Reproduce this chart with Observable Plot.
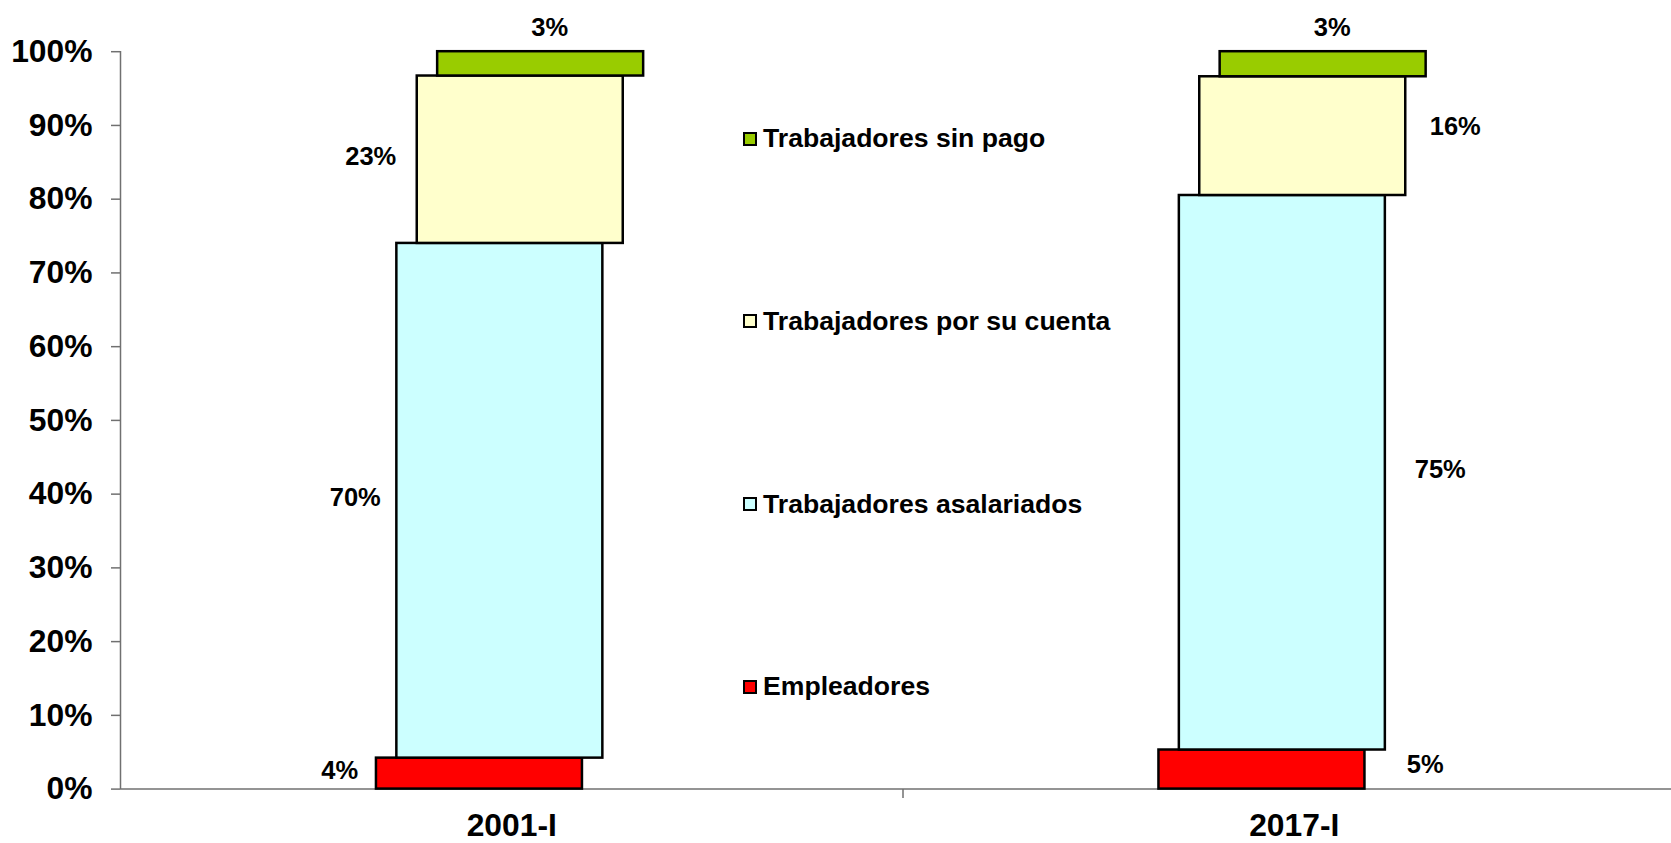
<!DOCTYPE html>
<html><head><meta charset="utf-8">
<script src="https://cdn.jsdelivr.net/npm/d3@7"></script>
<script src="https://cdn.jsdelivr.net/npm/@observablehq/plot@0.6"></script>
<style>
body{margin:0;background:#fff;}
#wrap{position:relative;width:1671px;height:843px;overflow:hidden;}
.legend{position:absolute;left:743px;font-family:Arial,"Liberation Sans",sans-serif;font-weight:bold;font-size:26.6px;color:#000;display:flex;align-items:center;height:30px;margin-top:-15px;white-space:nowrap;}
.sw{width:14px;height:14px;border:2.5px solid #000;box-sizing:border-box;margin-right:6px;flex:none;}
</style></head><body><div id="wrap"></div>
<script>
const categories = ["2001-I", "2017-I"];
const series = ["Empleadores", "Trabajadores asalariados", "Trabajadores por su cuenta", "Trabajadores sin pago"];
const colors = ["#FF0000", "#CCFFFF", "#FFFFCC", "#99CC00"];
const values2001 = [4.2, 69.8, 22.7, 3.3];
const values2017 = [5.3, 75.2, 16.1, 3.4];
const labels2001 = ["4%", "70%", "23%", "3%"];
const labels2017 = ["5%", "75%", "16%", "3%"];
const yTicks = [0, 10, 20, 30, 40, 50, 60, 70, 80, 90, 100];

const valuesByCat = [values2001, values2017];
const labelsByCat = [labels2001, labels2017];
const rows = [];
valuesByCat.forEach((vals, ci) => {
  let acc = 0;
  vals.forEach((v, si) => {
    rows.push({ci, si, cat: categories[ci], series: series[si], y1: acc, y2: acc + v, label: labelsByCat[ci][si]});
    acc += v;
  });
});

const barOffsets = [-32.3, -11.9, 8.5, 28.9];
const inset = 288.25;
const font = 'Arial, "Liberation Sans", sans-serif';
const labelDy2017 = [-5, -3, -9];
const marks = [];
series.forEach((s, si) => {
  marks.push(Plot.rectY(rows.filter(d => d.si === si), {
    x1: d => d.ci - 0.5, x2: d => d.ci + 0.5, y1: "y1", y2: "y2",
    fill: colors[si], stroke: "#000", strokeWidth: 2.5,
    insetLeft: inset, insetRight: inset, dx: barOffsets[si]
  }));
});
// labels
series.forEach((s, si) => {
  if (si < 3) {
    marks.push(Plot.text(rows.filter(d => d.si === si && d.ci === 0), {
      x: "ci", y: d => (d.y1 + d.y2) / 2, text: "label",
      dx: -172 + 15.5 * si, dy: -3, fontSize: 25.5, fontWeight: "bold", fill: "#000"
    }));
    marks.push(Plot.text(rows.filter(d => d.si === si && d.ci === 1), {
      x: "ci", y: d => (d.y1 + d.y2) / 2, text: "label",
      dx: 131 + 15 * si, dy: labelDy2017[si], fontSize: 25.5, fontWeight: "bold", fill: "#000"
    }));
  } else {
    marks.push(Plot.text(rows.filter(d => d.si === si), {
      x: "ci", y: "y2", text: "label",
      dx: 38, dy: -24, fontSize: 25.5, fontWeight: "bold", fill: "#000"
    }));
  }
});

const chart = Plot.plot({
  width: 1671, height: 843,
  marginLeft: 120, marginRight: 0, marginTop: 51, marginBottom: 54,
  style: {fontFamily: font, fontWeight: "bold", background: "#fff"},
  x: {domain: [-0.5, 1.5], range: [120, 1685]},
  y: {domain: [0, 100], range: [788.6, 51.2]},
  marks: [
    Plot.ruleY([0], {stroke: "#707070", strokeWidth: 1.5}),
    Plot.ruleX([-0.5], {stroke: "#707070", strokeWidth: 1.5}),
    Plot.axisY({ticks: yTicks, tickFormat: d => d + "%", tickSize: 9, tickPadding: 19,
      fontSize: 31.8, fontWeight: "bold", stroke: "#707070", strokeWidth: 1.5, fill: "#000", label: null}),
    Plot.axisX({ticks: [0, 1], tickFormat: i => categories[i], tickSize: 0, tickPadding: 24,
      fontSize: 31.8, fontWeight: "bold", fill: "#000", label: null}),
    Plot.axisX({ticks: [0.5], tickFormat: () => "", tickSize: 9, stroke: "#707070", strokeWidth: 1.5, label: null}),
    ...marks
  ]
});
const wrap = document.getElementById("wrap");
wrap.appendChild(chart);

// legend (top to bottom: reversed series order)
const legendTop = 138.5, legendStep = 182.8;
series.slice().reverse().forEach((s, k) => {
  const si = series.length - 1 - k;
  const item = document.createElement("div");
  item.className = "legend";
  item.style.top = (legendTop + legendStep * k) + "px";
  const sw = document.createElement("span");
  sw.className = "sw";
  sw.style.background = colors[si];
  const t = document.createElement("span");
  t.textContent = s;
  item.appendChild(sw); item.appendChild(t);
  wrap.appendChild(item);
});
</script></body></html>
